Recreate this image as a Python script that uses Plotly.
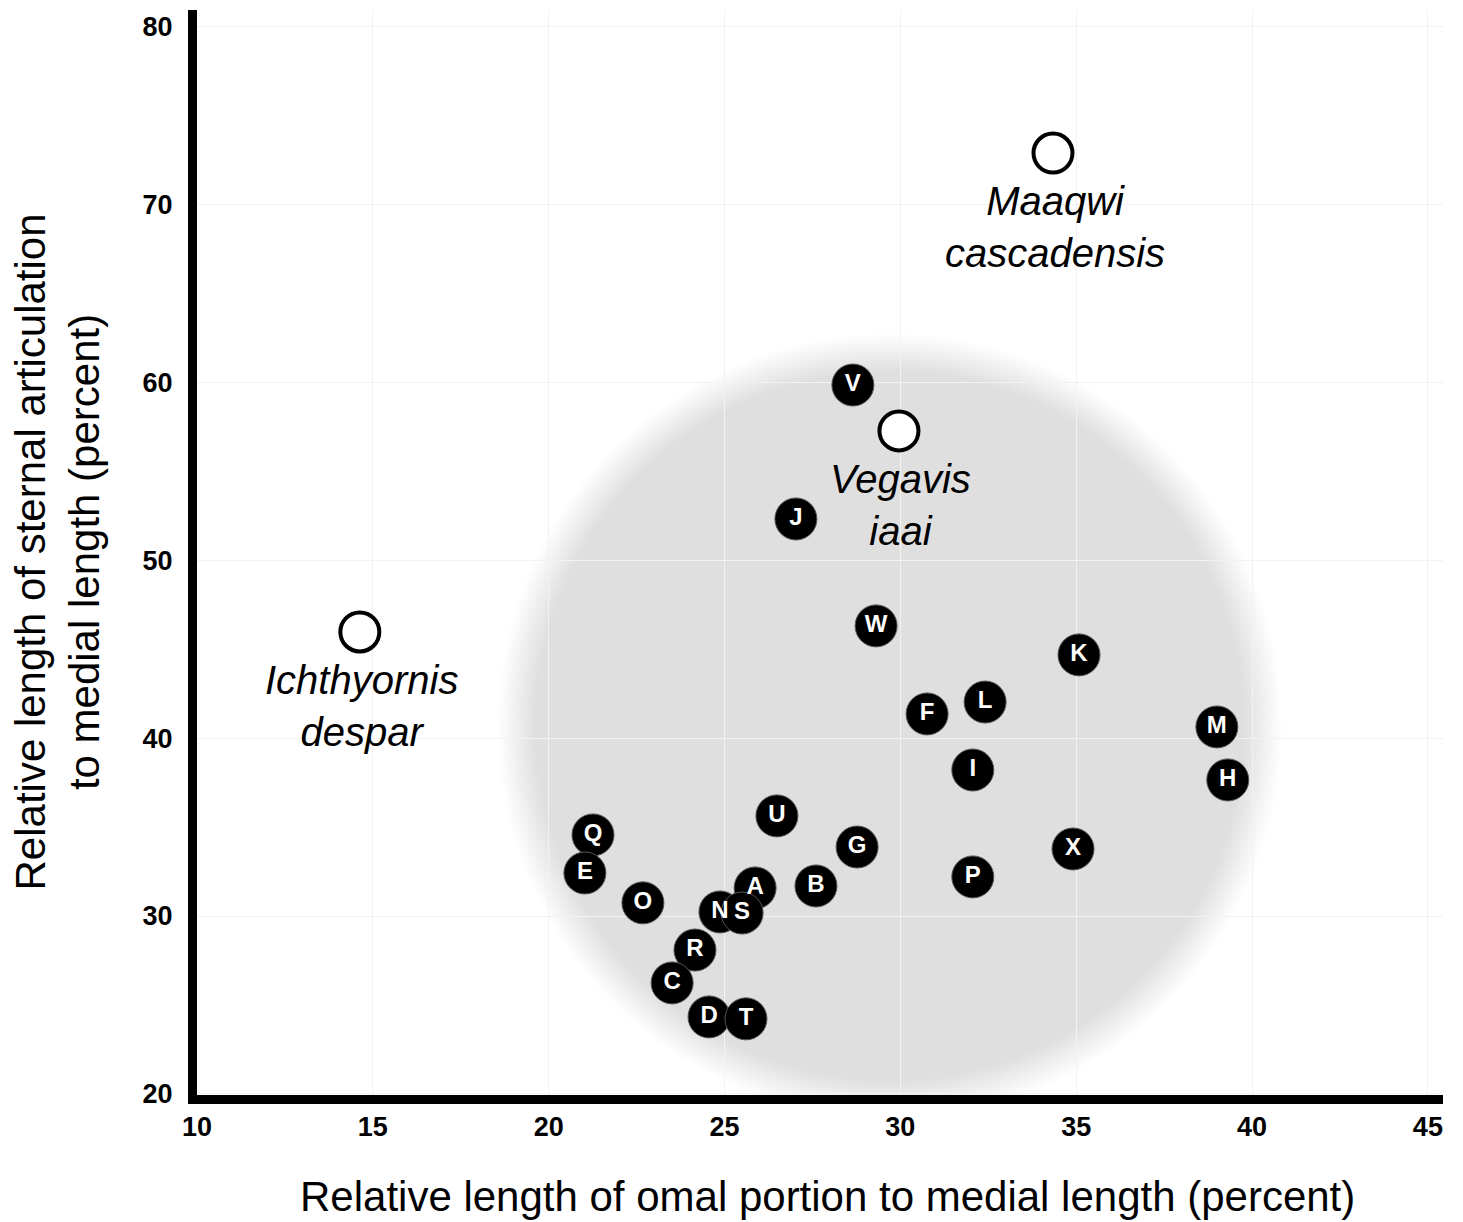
import plotly.graph_objects as go

# ---- data ----
letters = ["V", "J", "W", "K", "L", "F", "M", "I", "H", "U", "G", "X", "P", "B",
           "Q", "E", "O", "A", "N", "S", "R", "C", "D", "T"]
omal = [28.65, 27.03, 29.31, 35.08, 32.41, 30.76, 39.00, 32.06, 39.31, 26.49, 28.77, 34.91, 32.06, 27.60,
        21.26, 21.03, 22.68, 25.87, 24.87, 25.50, 24.16, 23.51, 24.56, 25.61]
sternal = [59.85, 52.32, 46.31, 44.68, 42.03, 41.36, 40.63, 38.21, 37.65, 35.63, 33.88, 33.77, 32.20, 31.69,
           34.56, 32.42, 30.74, 31.58, 30.23, 30.17, 28.09, 26.24, 24.33, 24.22]

fossil_names = ["Maaqwi<br>cascadensis", "Vegavis<br>iaai", "Ichthyornis<br>despar"]
fossil_omal = [34.34, 29.96, 14.63]
fossil_sternal = [72.89, 57.27, 45.97]

x_ticks = [10, 15, 20, 25, 30, 35, 40, 45]
y_ticks = [20, 30, 40, 50, 60, 70, 80]

# grey region (ellipse in data units)
region_cx, region_cy = 29.70, 40.69
region_rx, region_ry = 10.63, 21.02

FONT = "Liberation Sans, Arial, sans-serif"

fig = go.Figure()

# soft-edged grey region: stacked translucent ellipses
n_layers = 16
blur = 18.0 / 374.0
alpha = 1 - (223 / 255) ** (1 / n_layers)
for k in range(n_layers):
    t = -1 + 2 * k / (n_layers - 1)
    f = 1 + t * blur
    fig.add_shape(type="circle", xref="x", yref="y", layer="below",
                  x0=region_cx - region_rx * f, x1=region_cx + region_rx * f,
                  y0=region_cy - region_ry * f, y1=region_cy + region_ry * f,
                  fillcolor=f"rgba(0,0,0,{alpha:.5f})", line=dict(width=0))

fig.add_trace(go.Scatter(
    x=omal, y=sternal, mode="markers+text", text=letters,
    textposition="middle center",
    textfont=dict(family=FONT, size=24, color="white", weight="bold"),
    marker=dict(size=42, color="black", line=dict(width=1, color="#555555")),
    hoverinfo="x+y+text", showlegend=False, cliponaxis=False))

fig.add_trace(go.Scatter(
    x=fossil_omal, y=fossil_sternal, mode="markers",
    marker=dict(size=39, color="white", line=dict(width=4, color="black")),
    showlegend=False, cliponaxis=False))

for name, xv, yv in zip(fossil_names, fossil_omal, fossil_sternal):
    fig.add_annotation(x=xv, y=yv, xref="x", yref="y", text=name, showarrow=False,
                       xanchor="center", yanchor="middle", yshift=-74, xshift=2,
                       font=dict(family=FONT, size=40, color="black", style="italic"))

fig.add_annotation(x=0.5, y=0, xref="paper", yref="paper", xanchor="center", yanchor="middle",
                   xshift=7, yshift=-101, showarrow=False,
                   text="Relative length of omal portion to medial length (percent)",
                   font=dict(family=FONT, size=42, color="black"))
fig.add_annotation(x=0, y=0.5, xref="paper", yref="paper", xanchor="center", yanchor="middle",
                   xshift=-140, showarrow=False, textangle=-90,
                   text="Relative length of sternal articulation<br>to medial length (percent)",
                   font=dict(family=FONT, size=42, color="black"))

fig.update_xaxes(range=[10, 45.43], tickvals=x_ticks, ticks="", showline=True, linewidth=9,
                 linecolor="black", showgrid=True, gridcolor="#f2f2f2", gridwidth=1, zeroline=False,
                 tickfont=dict(family=FONT, size=27, color="black", weight="bold"),
                 ticklabelstandoff=0, automargin=False)
fig.update_yaxes(range=[19.94, 80.93], tickvals=y_ticks, ticks="", showline=True, linewidth=9,
                 linecolor="black", showgrid=True, gridcolor="#f2f2f2", gridwidth=1, zeroline=False,
                 tickfont=dict(family=FONT, size=27, color="black", weight="bold"),
                 ticklabelstandoff=10, automargin=False)

fig.update_layout(width=1455, height=1214, margin=dict(l=189, r=20, t=2, b=127),
                  plot_bgcolor="white", paper_bgcolor="white", showlegend=False)

fig.write_html("out.html")
